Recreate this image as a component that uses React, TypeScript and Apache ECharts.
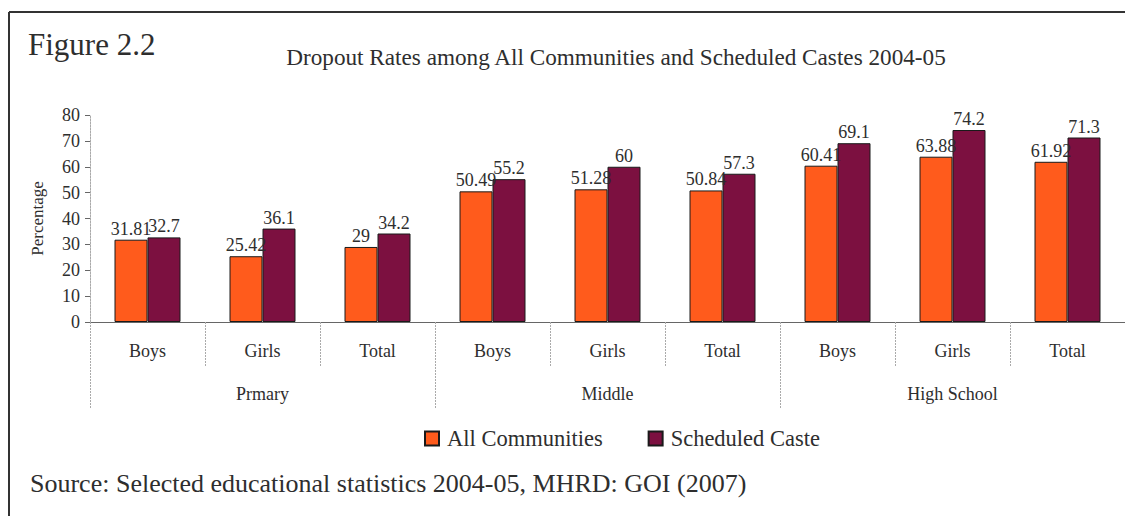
import React, { useEffect, useRef } from "react";
import * as echarts from "echarts";

// Dropout rates (%) by level and gender, 2004-05
const subCategories = ["Boys", "Girls", "Total", "Boys", "Girls", "Total", "Boys", "Girls", "Total"];
const levels = ["Prmary", "Middle", "High School"];
const allCommunities = [31.81, 25.42, 29, 50.49, 51.28, 50.84, 60.41, 63.88, 61.92];
const scheduledCaste = [32.7, 36.1, 34.2, 55.2, 60, 57.3, 69.1, 74.2, 71.3];
const seriesNames = ["All Communities", "Scheduled Caste"];

const FONT = "'Liberation Serif', 'Times New Roman', serif";
const TEXT = "#2e2e2e";

export default function App() {
  const ref = useRef<HTMLDivElement>(null);

  useEffect(() => {
    if (!ref.current) return;
    const chart = echarts.init(ref.current, undefined, { renderer: "svg" });

    const barLabel = {
      show: true,
      position: "top" as const,
      distance: 2,
      fontFamily: FONT,
      fontSize: 18,
      color: TEXT,
    };

    chart.setOption({
      animation: false,
      backgroundColor: "#ffffff",
      textStyle: { fontFamily: FONT, color: TEXT },
      grid: { left: 90, right: -6, top: 115, bottom: 194, containLabel: false },
      legend: {
        data: seriesNames,
        left: 424,
        top: 427,
        itemWidth: 14,
        itemHeight: 14,
        itemGap: 45,
        icon: "rect",
        padding: 0,
        textStyle: { fontFamily: FONT, fontSize: 22.5, color: TEXT, padding: [2, 0, 0, 3] },
      },
      xAxis: [
        {
          type: "category",
          data: subCategories,
          position: "bottom",
          axisLine: { show: true, lineStyle: { color: "#666", width: 1 } },
          axisTick: { show: true, interval: 0, length: 44, lineStyle: { color: "#aaa", type: [2, 1] } },
          axisLabel: { interval: 0, margin: 20, fontFamily: FONT, fontSize: 18, color: TEXT },
        },
        {
          type: "category",
          data: levels,
          position: "bottom",
          axisLine: { show: false },
          axisTick: { show: true, interval: 0, length: 86, lineStyle: { color: "#aaa", type: [2, 1] } },
          axisLabel: { interval: 0, margin: 63, fontFamily: FONT, fontSize: 18, color: TEXT },
        },
      ],
      yAxis: {
        type: "value",
        min: 0,
        max: 80,
        interval: 10,
        name: "Percentage",
        nameLocation: "middle",
        nameRotate: 90,
        nameGap: 44,
        nameTextStyle: { fontFamily: FONT, fontSize: 17, color: TEXT },
        axisLine: { show: true, lineStyle: { color: "#aaa", type: [2, 1] } },
        axisTick: { show: true, length: 5, lineStyle: { color: "#666" } },
        axisLabel: { margin: 10, fontFamily: FONT, fontSize: 18, color: TEXT },
        splitLine: { show: false },
      },
      series: [
        {
          name: seriesNames[0],
          type: "bar",
          xAxisIndex: 0,
          data: allCommunities,
          barWidth: 33,
          barGap: "0%",
          itemStyle: { color: "#ff5b1c", borderColor: "#1a1a1a", borderWidth: 1 },
          label: barLabel,
        },
        {
          name: seriesNames[1],
          type: "bar",
          xAxisIndex: 0,
          data: scheduledCaste,
          barWidth: 33,
          barGap: "0%",
          itemStyle: { color: "#7c1040", borderColor: "#1a1a1a", borderWidth: 1 },
          label: barLabel,
        },
      ],
      graphic: [
        { type: "line", shape: { x1: 9, y1: 12, x2: 1125, y2: 12 }, style: { stroke: "#333", lineWidth: 2 } },
        { type: "line", shape: { x1: 9, y1: 12, x2: 9, y2: 516 }, style: { stroke: "#333", lineWidth: 2 } },
        {
          type: "text",
          x: 28,
          y: 44,
          style: { text: "Figure 2.2", fontFamily: FONT, fontSize: 31, fill: TEXT, verticalAlign: "middle" },
        },
        {
          type: "text",
          x: 616,
          y: 57,
          style: {
            text: "Dropout Rates among All Communities and Scheduled Castes 2004-05",
            fontFamily: FONT,
            fontSize: 23.2,
            fill: TEXT,
            align: "center",
            verticalAlign: "middle",
          },
        },
        {
          type: "text",
          x: 30,
          y: 483,
          style: {
            text: "Source: Selected educational statistics 2004-05, MHRD: GOI (2007)",
            fontFamily: FONT,
            fontSize: 26,
            fill: TEXT,
            verticalAlign: "middle",
          },
        },
      ],
    });

    return () => chart.dispose();
  }, []);

  return (
    <div
      ref={ref}
      style={{ position: "absolute", left: 0, top: 0, width: 1125, height: 516 }}
    />
  );
}
